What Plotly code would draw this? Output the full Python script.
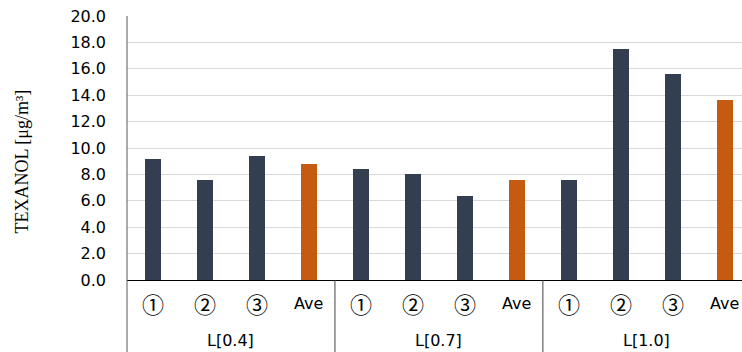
import plotly.graph_objects as go

# Sample labels and TEXANOL concentrations (µg/m³) per location
groups = ["L[0.4]", "L[0.7]", "L[1.0]"]
samples = ["①", "②", "③", "Ave"]
values_l04 = [9.2, 7.6, 9.4, 8.8]
values_l07 = [8.4, 8.0, 6.4, 7.6]
values_l10 = [7.6, 17.5, 15.6, 13.6]

y_ticks = [0, 2, 4, 6, 8, 10, 12, 14, 16, 18, 20]

DARK = "#333f50"
ORANGE = "#c55a11"
SANS = "DejaVu Sans"
CIRCLED = "Noto Sans CJK JP"

all_values = values_l04 + values_l07 + values_l10
n_per = len(samples)
xs = list(range(len(all_values)))
colors = [ORANGE if samples[i % n_per] == "Ave" else DARK for i in xs]

fig = go.Figure()
fig.add_trace(go.Bar(
    x=xs, y=all_values, width=0.31,
    marker=dict(color=colors, line=dict(width=0)),
    showlegend=False, hoverinfo="skip",
))

annotations = []
# sample labels (first row under axis)
for i in xs:
    label = samples[i % n_per]
    circled = label != "Ave"
    annotations.append(dict(
        x=i, xref="x", y=-0.089, yref="paper", text=label,
        showarrow=False, xanchor="center", yanchor="middle",
        font=dict(family=CIRCLED if circled else SANS, size=22 if circled else 16,
                  color="#000000"),
    ))
# group labels (second row)
for g, name in enumerate(groups):
    annotations.append(dict(
        x=g * n_per + (n_per - 1) / 2, xref="x", y=-0.229, yref="paper", text=name,
        showarrow=False, xanchor="center", yanchor="middle",
        font=dict(family=SANS, size=16, color="#000000"),
    ))
# y-axis title
annotations.append(dict(
    x=-0.171, xref="paper", y=0.448, yref="paper",
    text="TEXANOL [μg/m³]", textangle=-90,
    showarrow=False, xanchor="center", yanchor="middle",
    font=dict(family="Liberation Serif", size=18, color="#000000"),
))

shapes = []
# left axis line extending into the label area
shapes.append(dict(type="line", xref="paper", yref="paper", x0=0, x1=0, y0=-0.3, y1=1,
                   line=dict(color="#595959", width=1)))
# group dividers
for g in range(1, len(groups)):
    shapes.append(dict(type="line", xref="x", yref="paper",
                       x0=g * n_per - 0.5, x1=g * n_per - 0.5, y0=-0.3, y1=0,
                       line=dict(color="#404040", width=1)))

fig.update_layout(
    width=742, height=352,
    margin=dict(l=127, r=0, t=16, b=71.5),
    paper_bgcolor="white", plot_bgcolor="white",
    bargap=0,
    xaxis=dict(range=[-0.5, 11.33], showticklabels=False, showgrid=False,
               zeroline=False, showline=True, linecolor="#000000", linewidth=1,
               fixedrange=True),
    yaxis=dict(range=[0, 20], tickvals=y_ticks, tickformat=".1f",
               showgrid=True, gridcolor="#d9d9d9", gridwidth=1,
               zeroline=False, showline=False, ticks="",
               ticklabelstandoff=20,
               tickfont=dict(family=SANS, size=16, color="#000000"),
               fixedrange=True),
    annotations=annotations,
    shapes=shapes,
)

fig.write_html("out.html")
